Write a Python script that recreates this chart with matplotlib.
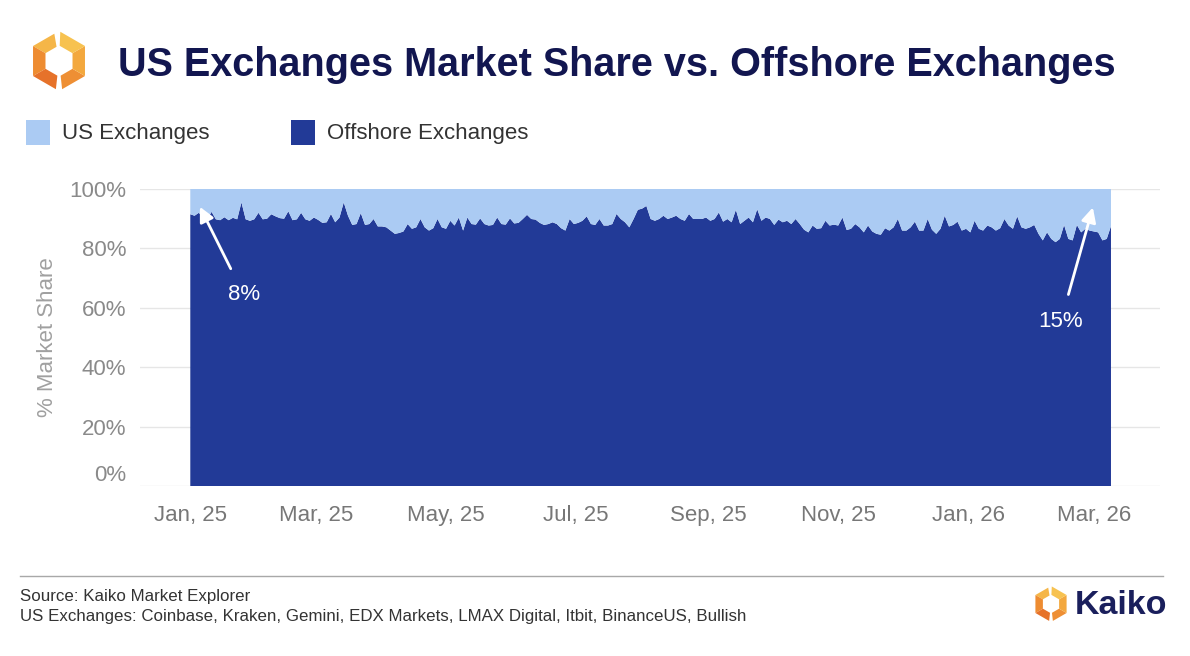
import numpy as np
import pandas as pd
import matplotlib
matplotlib.use("Agg")
import matplotlib.pyplot as plt
from matplotlib.patches import Polygon, Rectangle

# offshore share (%), one reading every 2 days from 1 Jan 2025
offshore = [
    91.5, 91.0, 92.0, 90.5, 90.0, 92.3, 89.8, 89.5, 90.5, 89.5, 90.3, 89.8, 95.5, 89.8,
    89.3, 89.8, 92.0, 89.8, 90.0, 91.5, 90.8, 90.2, 90.0, 92.5, 89.5, 89.8, 92.0, 89.8,
    89.3, 90.4, 89.6, 88.6, 88.8, 91.6, 88.8, 90.4, 95.5, 91.0, 87.9, 88.2, 91.9, 87.9,
    88.2, 89.9, 87.4, 87.4, 87.1, 86.0, 84.9, 85.2, 85.7, 88.2, 86.6, 87.1, 89.9,
    87.1, 86.0, 86.8, 89.9, 87.1, 86.6, 89.3, 87.7, 90.4, 86.0, 90.4, 88.2, 88.0, 90.1,
    88.2, 87.7, 87.9, 90.4, 88.2, 88.0, 90.1, 88.4, 88.6, 89.9, 91.3, 89.9, 89.7,
    88.6, 87.9, 88.2, 88.8, 88.2, 86.8, 86.0, 89.9, 88.2, 88.6, 89.3, 90.8, 88.2, 87.9,
    89.9, 87.7, 87.7, 88.2, 91.6, 89.9, 88.8, 87.1, 89.9, 93.0, 93.4, 94.3, 89.9,
    89.3, 89.9, 91.0, 89.9, 90.4, 91.0, 89.9, 89.3, 91.6, 89.9, 89.9, 89.9, 90.4, 89.3,
    89.9, 92.1, 89.0, 89.9, 88.8, 93.0, 88.2, 89.3, 90.4, 88.8, 93.2, 89.3, 90.4,
    89.9, 87.9, 89.7, 88.8, 89.3, 88.2, 89.9, 88.2, 86.3, 85.4, 87.7, 86.6, 86.8, 89.3,
    87.7, 88.0, 87.7, 90.4, 86.2, 86.6, 88.2, 87.1, 85.4, 87.7, 85.7, 84.9, 84.6,
    86.8, 86.0, 87.1, 89.9, 86.0, 86.0, 87.1, 89.0, 86.0, 86.0, 89.9, 86.3, 84.9, 86.6,
    91.0, 87.4, 87.9, 89.0, 86.0, 86.6, 85.4, 89.3, 86.6, 86.0, 87.7, 87.1, 86.0,
    86.8, 89.9, 87.7, 86.6, 90.8, 87.1, 86.6, 87.1, 87.9, 84.9, 82.7, 85.4, 83.2, 82.1,
    83.2, 87.9, 83.2, 82.7, 87.9, 85.4, 86.6, 86.0, 85.7, 85.4, 82.7, 83.2, 87.5,
]
us = [100 - v for v in offshore]

tick_dates = ["2025-01-01", "2025-03-01", "2025-05-01", "2025-07-01",
              "2025-09-01", "2025-11-01", "2026-01-01", "2026-03-01"]
tick_labels = ["Jan, 25", "Mar, 25", "May, 25", "Jul, 25",
               "Sep, 25", "Nov, 25", "Jan, 26", "Mar, 26"]
y_ticks = [0, 20, 40, 60, 80, 100]

DARK = "#223a97"
LIGHT = "#abcbf3"
NAVY = "#121650"

plt.rcParams["font.family"] = ["Liberation Sans", "DejaVu Sans"]

start = pd.Timestamp("2025-01-01")
dates = pd.date_range(start, periods=len(offshore), freq="2D")

W, H = 1190, 656
fig = plt.figure(figsize=(W / 100, H / 100), dpi=100)
ax = fig.add_axes([140 / W, 1 - 486 / H, 1020 / W, 297 / H])

ax.stackplot(dates, offshore, us, colors=[DARK, LIGHT], linewidth=0, zorder=2)
ax.set_xlim(start - pd.Timedelta(days=23.6), start + pd.Timedelta(days=455))
ax.set_ylim(0, 100)
ax.set_yticks(y_ticks)
ax.set_yticklabels([f"{t}%" for t in y_ticks])
ax.set_xticks(pd.to_datetime(tick_dates))
ax.set_xticklabels(tick_labels)
ax.grid(axis="y", color="#e6e6e6", lw=1, zorder=0)
for s in ax.spines.values():
    s.set_visible(False)
ax.tick_params(length=0, labelsize=16, labelcolor="#8a8a8a")
ax.tick_params(axis="x", pad=14, labelcolor="#777777")
ax.tick_params(axis="y", pad=10)
ax.get_yticklabels()[0].set_va("bottom")
ax.set_ylabel("% Market Share", fontsize=16, color="#a0a0a0", labelpad=8)

# annotations
ax.annotate("8%", xy=(start + pd.Timedelta(days=4.5), 94), xytext=(start + pd.Timedelta(days=25), 64.5),
            color="white", fontsize=16, ha="center", va="center", zorder=5,
            arrowprops=dict(arrowstyle="-|>", color="white", lw=2, mutation_scale=22, shrinkA=10, shrinkB=0))
ax.annotate("15%", xy=(start + pd.Timedelta(days=423.5), 93.8), xytext=(start + pd.Timedelta(days=408.5), 55.5),
            color="white", fontsize=16, ha="center", va="center", zorder=5,
            arrowprops=dict(arrowstyle="-|>", color="white", lw=2, mutation_scale=22, shrinkA=10, shrinkB=0))

# overlay in pixel coordinates for header / footer
ov = fig.add_axes([0, 0, 1, 1], facecolor="none")
ov.set_xlim(0, W)
ov.set_ylim(H, 0)
ov.axis("off")


def logo(cx, cy, r):
    ang = np.radians([90, 150, 210, 270, 330, 30, 90])
    ox = cx + r * np.cos(ang)
    oy = cy - r * np.sin(ang)
    ix = cx + r * 0.52 * np.cos(ang)
    iy = cy - r * 0.52 * np.sin(ang)
    shades = ["#f5b648", "#ee8c31", "#e6722a", "#ee8f34", "#f3a83e", "#f7c250"]
    for i in range(6):
        a, b = i, i + 1
        pts = np.array([(ox[a], oy[a]), (ox[b], oy[b]), (ix[b], iy[b]), (ix[a], iy[a])])
        # small gaps at top and bottom vertices
        if i == 0:
            pts[0] = pts[0] + (pts[1] - pts[0]) * 0.18
            pts[3] = pts[3] + (pts[2] - pts[3]) * 0.18
        if i == 2:
            pts[1] = pts[1] + (pts[0] - pts[1]) * 0.12
            pts[2] = pts[2] + (pts[3] - pts[2]) * 0.12
        if i == 3:
            pts[0] = pts[0] + (pts[1] - pts[0]) * 0.12
            pts[3] = pts[3] + (pts[2] - pts[3]) * 0.12
        if i == 5:
            pts[1] = pts[1] + (pts[0] - pts[1]) * 0.05
            pts[2] = pts[2] + (pts[3] - pts[2]) * 0.05
        ov.add_patch(Polygon(pts, closed=True, fc=shades[i], ec="none"))


logo(59, 61, 30)
ov.text(118, 65, "US Exchanges Market Share vs. Offshore Exchanges", fontsize=28.5,
        fontweight="bold", color=NAVY, va="center", ha="left")

ov.add_patch(Rectangle((26, 120), 24, 25, fc=LIGHT, ec="none"))
ov.text(62, 133, "US Exchanges", fontsize=16, color="#333333", va="center")
ov.add_patch(Rectangle((291, 120), 24, 25, fc=DARK, ec="none"))
ov.text(327, 133, "Offshore Exchanges", fontsize=16, color="#333333", va="center")

ov.plot([20, 1163], [576, 576], color="#a8a8a8", lw=1)
ov.text(20, 597, "Source: Kaiko Market Explorer", fontsize=12.2, color="#333333", va="center")
ov.text(20, 616, "US Exchanges: Coinbase, Kraken, Gemini, EDX Markets, LMAX Digital, Itbit, BinanceUS, Bullish",
        fontsize=12.2, color="#333333", va="center")

logo(1051, 604, 18)
ov.text(1075, 605, "Kaiko", fontsize=24.5, fontweight="bold", color="#1a1f5c", va="center")

fig.savefig("out.png", dpi=100)
